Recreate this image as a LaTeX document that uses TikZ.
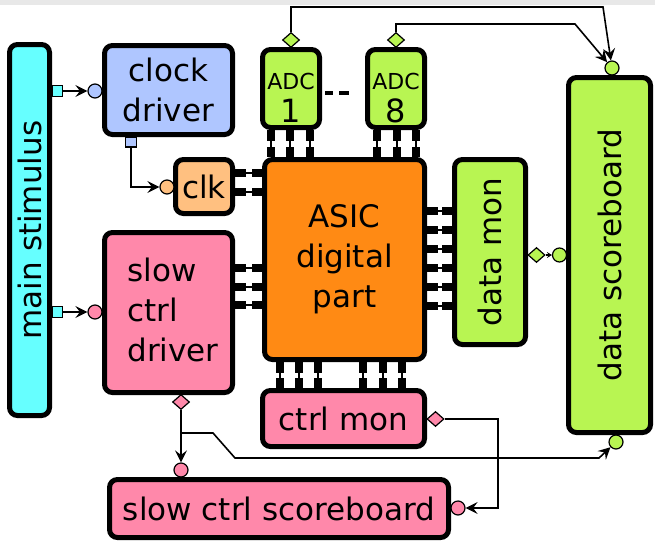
\documentclass[tikz,border=0pt]{standalone}
\usepackage{fontspec}
\setmainfont{DejaVu Sans}
\usetikzlibrary{arrows.meta,shapes.geometric}

\definecolor{stimcol}{HTML}{66FFFF}
\definecolor{clkdrvcol}{HTML}{AFC6FF}
\definecolor{clkcol}{HTML}{FFC080}
\definecolor{greencol}{HTML}{B8F552}
\definecolor{asiccol}{HTML}{FF8A14}
\definecolor{pinkcol}{HTML}{FF88AA}

\newcommand\bigtxt{\fontsize{31}{40}\selectfont}

\begin{document}
\begin{tikzpicture}[x=1pt,y=-1pt,
  blk/.style={draw=black, line width=5pt, rounded corners=8pt, inner sep=0pt,
              font=\bigtxt, align=center},
  sqport/.style={rectangle, draw=black, line width=1.2pt, minimum width=10pt,
                 minimum height=10.5pt, inner sep=0pt},
  cport/.style={circle, draw=black, line width=1.2pt, minimum size=14pt, inner sep=0pt},
  dport/.style={diamond, draw=black, line width=1.2pt, minimum width=17pt,
                minimum height=15pt, inner sep=0pt},
  conn/.style={line width=1.6pt, -{Stealth[length=12pt,width=12pt,inset=4.5pt]}},
  pin/.style={line width=1.8pt,
              {Square[length=10.5pt,width=8.5pt]}-{Square[length=10.5pt,width=8.5pt]}},
  rtxt/.style={rotate=90, font=\bigtxt}
]
\useasboundingbox (0,0) rectangle (655,541);
\fill[white] (0,0) rectangle (655,541);
\fill[black!9] (0,0) rectangle (655,5);

% blocks
\node[blk, fill=stimcol, minimum width=40pt, minimum height=371pt] (stim) at (29.5,230) {};
\node[rtxt] at (stim.center) {main stimulus};
\node[blk, fill=clkdrvcol, minimum width=128pt, minimum height=89pt] (cdrv) at (168.5,90) {clock\\driver};
\node[blk, fill=clkcol, minimum width=57pt, minimum height=54pt] (clk) at (204,186.5) {clk};
\node[blk, fill=greencol, minimum width=57pt, minimum height=78pt] (adc1) at (291,88.5) {};
\node[blk, fill=greencol, minimum width=57pt, minimum height=78pt] (adc8) at (396,88.5) {};
\foreach \n/\x in {1/291, 8/396} {
  \node[anchor=base, font=\fontsize{22}{22}\selectfont, inner sep=0pt] at (\x,89) {ADC};
  \node[anchor=base, font=\fontsize{32}{32}\selectfont, inner sep=0pt] at (\x,122) {\n};
}
\draw[line width=3.5pt] (325,93) -- (333,93) (339,93) -- (349,93);
\node[blk, fill=asiccol, minimum width=160pt, minimum height=200pt] (asic) at (344.5,259.5) {ASIC\\digital\\part};
\node[blk, fill=greencol, minimum width=71pt, minimum height=185pt] (dmon) at (490,252) {};
\node[rtxt] at (dmon.center) {data mon};
\node[blk, fill=greencol, minimum width=82pt, minimum height=355pt] (dsb) at (609.5,255) {};
\node[rtxt] at (dsb.center) {data scoreboard};
\node[blk, fill=pinkcol, minimum width=128pt, minimum height=160pt] (sdrv) at (168.5,312.5) {};
\node[font=\bigtxt, align=left, inner sep=0pt] at (173,310) {slow\\ctrl\\driver};
\node[blk, fill=pinkcol, minimum width=162pt, minimum height=56pt] (cmon) at (343.5,418.5) {ctrl mon};
\node[blk, fill=pinkcol, minimum width=339pt, minimum height=58pt] (ssc) at (279,508.5) {slow ctrl scoreboard};

% pins between the blocks
\foreach \y in {173,192} \draw[pin] (clk.east |- 0,\y) -- (asic.west |- 0,\y);
\foreach \y in {268,287,305} \draw[pin] (sdrv.east |- 0,\y) -- (asic.west |- 0,\y);
\foreach \x in {271,290,310} \draw[pin] (adc1.south -| \x,0) -- (asic.north -| \x,0);
\foreach \x in {377,397,416} \draw[pin] (adc8.south -| \x,0) -- (asic.north -| \x,0);
\foreach \y in {211,230,249,268,287,306} \draw[pin] (asic.east |- 0,\y) -- (dmon.west |- 0,\y);
\foreach \x in {280,299,318,363,383,402} \draw[pin] (asic.south -| \x,0) -- (cmon.north -| \x,0);

% ports
\node[sqport, fill=stimcol] (stimo1) at (57.5,91) {};
\node[sqport, fill=stimcol] (stimo2) at (57.5,312) {};
\node[cport, fill=clkdrvcol] (cdrvi) at (95,91) {};
\node[sqport, fill=clkdrvcol, minimum width=11pt, minimum height=10pt] (cdrvo) at (131,142) {};
\node[cport, fill=clkcol] (clki) at (167,187) {};
\node[cport, fill=pinkcol] (sdrvi) at (95,312) {};
\node[dport, fill=pinkcol] (sdrvo) at (181,402) {};
\node[dport, fill=greencol] (adc1o) at (291,40) {};
\node[dport, fill=greencol] (adc8o) at (396,40) {};
\node[dport, fill=greencol] (dmono) at (536.5,255) {};
\node[cport, fill=greencol] (dsbl) at (559.5,255) {};
\node[cport, fill=greencol] (dsbt) at (612,68) {};
\node[cport, fill=greencol] (dsbb) at (616,442) {};
\node[dport, fill=pinkcol] (cmono) at (435.5,419) {};
\node[cport, fill=pinkcol] (ssct) at (181,470) {};
\node[cport, fill=pinkcol] (sscr) at (458,508) {};

% connectors
\draw[conn] (stimo1) -- (cdrvi);
\draw[conn] (stimo2) -- (sdrvi);
\draw[conn] (cdrvo) |- (clki);
\draw[conn] (adc1o) -- (291,7) -- (603,7) -- (dsbt);
\draw[conn] (adc8o) -- (396,24) -- (575,24) -- (dsbt);
\draw[line width=1.5pt, -{Stealth[length=5pt,width=6pt,inset=2pt]}] (dmono) -- (dsbl);
\draw[conn] (sdrvo) -- (ssct);
\draw[conn] (sdrvo) -- (181,433) -- (213,433) -- (235,458) -- (599,458) -- (dsbb);
\draw[conn] (cmono) -- (498,419) -- (498,508) -- (sscr);
\end{tikzpicture}
\end{document}
